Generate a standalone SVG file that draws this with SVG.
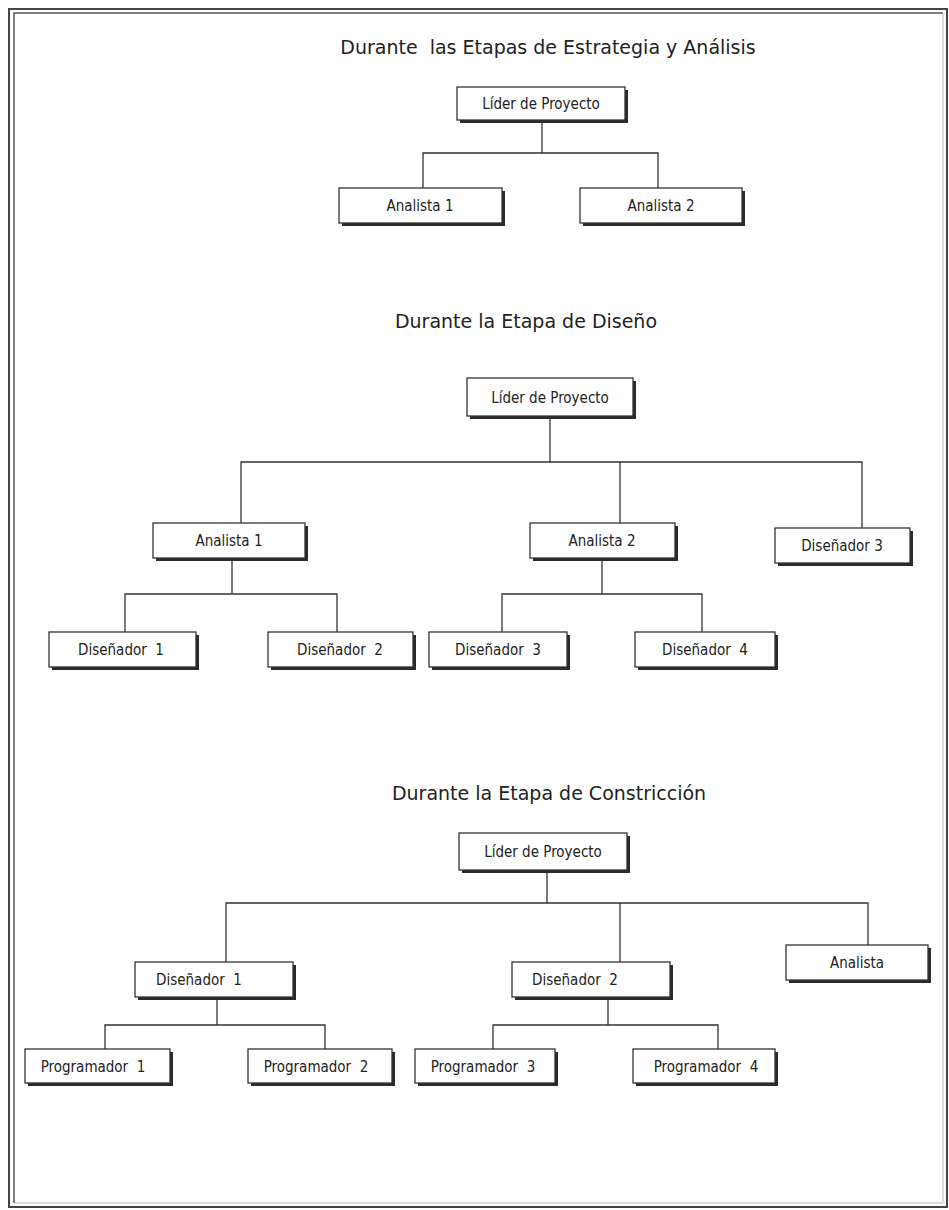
<svg xmlns="http://www.w3.org/2000/svg" width="949" height="1210" viewBox="0 0 949 1210">
  <style>
    .title { font-family: "DejaVu Sans", "Liberation Sans", sans-serif; font-size: 19px; fill: #222; text-anchor: middle; white-space: pre; }
    .label { font-family: "DejaVu Sans Condensed", "DejaVu Sans", sans-serif; font-size: 15px; fill: #222; text-anchor: middle; white-space: pre; }
    .box { fill: #fff; stroke: #333; stroke-width: 1.3; }
    .shadow { fill: #2a2a2a; }
    .conn { fill: none; stroke: #333; stroke-width: 1.3; }
  </style>
  <rect x="0" y="0" width="949" height="1210" fill="#fff"/>

  <!-- page frame: double rule -->
  <g id="frame">
    <rect x="9" y="9" width="938" height="1198" fill="none" stroke="#444" stroke-width="2"/>
    <path d="M14,1203 V13 H943" fill="none" stroke="#555" stroke-width="1.5"/>
    <path d="M943,13 V1203 H14" fill="none" stroke="#bbb" stroke-width="1"/>
  </g>

  <!-- section titles -->
  <g id="titles">
    <text class="title" x="548" y="54">Durante  las Etapas de Estrategia y Análisis</text>
    <text class="title" x="526" y="328">Durante la Etapa de Diseño</text>
    <text class="title" x="549" y="800">Durante la Etapa de Constricción</text>
  </g>

  <!-- connectors -->
  <g id="connectors" class="conn">
    <!-- strategy / analysis -->
    <path d="M542,120 V153 M423,188 V153 H658 V188"/>
    <!-- design -->
    <path d="M550,416 V462 M241,523 V462 H862 V528 M620,462 V523"/>
    <path d="M232,558 V594 M125,632 V594 H337 V632"/>
    <path d="M602,558 V594 M502,632 V594 H702 V632"/>
    <!-- construction -->
    <path d="M547,870 V903 M226,962 V903 H868 V945 M620,903 V962"/>
    <path d="M217,997 V1025 M105,1049 V1025 H325 V1049"/>
    <path d="M608,997 V1025 M493,1049 V1025 H718 V1049"/>
  </g>

  <!-- strategy / analysis nodes -->
  <g id="s1-lider">
    <rect class="shadow" x="460" y="90" width="168" height="33"/>
    <rect class="box" x="457" y="87" width="168" height="33"/>
    <text class="label" x="541" y="109">Líder de Proyecto</text>
  </g>
  <g id="s1-analista1">
    <rect class="shadow" x="342" y="191" width="163" height="35"/>
    <rect class="box" x="339" y="188" width="163" height="35"/>
    <text class="label" x="420" y="211">Analista 1</text>
  </g>
  <g id="s1-analista2">
    <rect class="shadow" x="583" y="191" width="162" height="35"/>
    <rect class="box" x="580" y="188" width="162" height="35"/>
    <text class="label" x="661" y="211">Analista 2</text>
  </g>

  <!-- design nodes -->
  <g id="s2-lider">
    <rect class="shadow" x="470" y="381" width="166" height="38"/>
    <rect class="box" x="467" y="378" width="166" height="38"/>
    <text class="label" x="550" y="403">Líder de Proyecto</text>
  </g>
  <g id="s2-analista1">
    <rect class="shadow" x="156" y="526" width="152" height="35"/>
    <rect class="box" x="153" y="523" width="152" height="35"/>
    <text class="label" x="229" y="546">Analista 1</text>
  </g>
  <g id="s2-analista2">
    <rect class="shadow" x="533" y="526" width="145" height="35"/>
    <rect class="box" x="530" y="523" width="145" height="35"/>
    <text class="label" x="602" y="546">Analista 2</text>
  </g>
  <g id="s2-disenador3-top">
    <rect class="shadow" x="778" y="531" width="135" height="35"/>
    <rect class="box" x="775" y="528" width="135" height="35"/>
    <text class="label" x="842" y="551">Diseñador 3</text>
  </g>
  <g id="s2-disenador1">
    <rect class="shadow" x="52" y="635" width="147" height="35"/>
    <rect class="box" x="49" y="632" width="147" height="35"/>
    <text class="label" x="121" y="655">Diseñador  1</text>
  </g>
  <g id="s2-disenador2">
    <rect class="shadow" x="271" y="635" width="145" height="35"/>
    <rect class="box" x="268" y="632" width="145" height="35"/>
    <text class="label" x="340" y="655">Diseñador  2</text>
  </g>
  <g id="s2-disenador3">
    <rect class="shadow" x="432" y="635" width="138" height="35"/>
    <rect class="box" x="429" y="632" width="138" height="35"/>
    <text class="label" x="498" y="655">Diseñador  3</text>
  </g>
  <g id="s2-disenador4">
    <rect class="shadow" x="638" y="635" width="140" height="35"/>
    <rect class="box" x="635" y="632" width="140" height="35"/>
    <text class="label" x="705" y="655">Diseñador  4</text>
  </g>

  <!-- construction nodes -->
  <g id="s3-lider">
    <rect class="shadow" x="462" y="836" width="168" height="37"/>
    <rect class="box" x="459" y="833" width="168" height="37"/>
    <text class="label" x="543" y="857">Líder de Proyecto</text>
  </g>
  <g id="s3-disenador1">
    <rect class="shadow" x="138" y="965" width="158" height="35"/>
    <rect class="box" x="135" y="962" width="158" height="35"/>
    <text class="label" x="199" y="985">Diseñador  1</text>
  </g>
  <g id="s3-disenador2">
    <rect class="shadow" x="515" y="965" width="158" height="35"/>
    <rect class="box" x="512" y="962" width="158" height="35"/>
    <text class="label" x="575" y="985">Diseñador  2</text>
  </g>
  <g id="s3-analista">
    <rect class="shadow" x="789" y="948" width="142" height="35"/>
    <rect class="box" x="786" y="945" width="142" height="35"/>
    <text class="label" x="857" y="968">Analista</text>
  </g>
  <g id="s3-programador1">
    <rect class="shadow" x="28" y="1052" width="145" height="34"/>
    <rect class="box" x="25" y="1049" width="145" height="34"/>
    <text class="label" x="93" y="1072">Programador  1</text>
  </g>
  <g id="s3-programador2">
    <rect class="shadow" x="251" y="1052" width="144" height="34"/>
    <rect class="box" x="248" y="1049" width="144" height="34"/>
    <text class="label" x="316" y="1072">Programador  2</text>
  </g>
  <g id="s3-programador3">
    <rect class="shadow" x="418" y="1052" width="140" height="34"/>
    <rect class="box" x="415" y="1049" width="140" height="34"/>
    <text class="label" x="483" y="1072">Programador  3</text>
  </g>
  <g id="s3-programador4">
    <rect class="shadow" x="636" y="1052" width="142" height="34"/>
    <rect class="box" x="633" y="1049" width="142" height="34"/>
    <text class="label" x="706" y="1072">Programador  4</text>
  </g>
</svg>
